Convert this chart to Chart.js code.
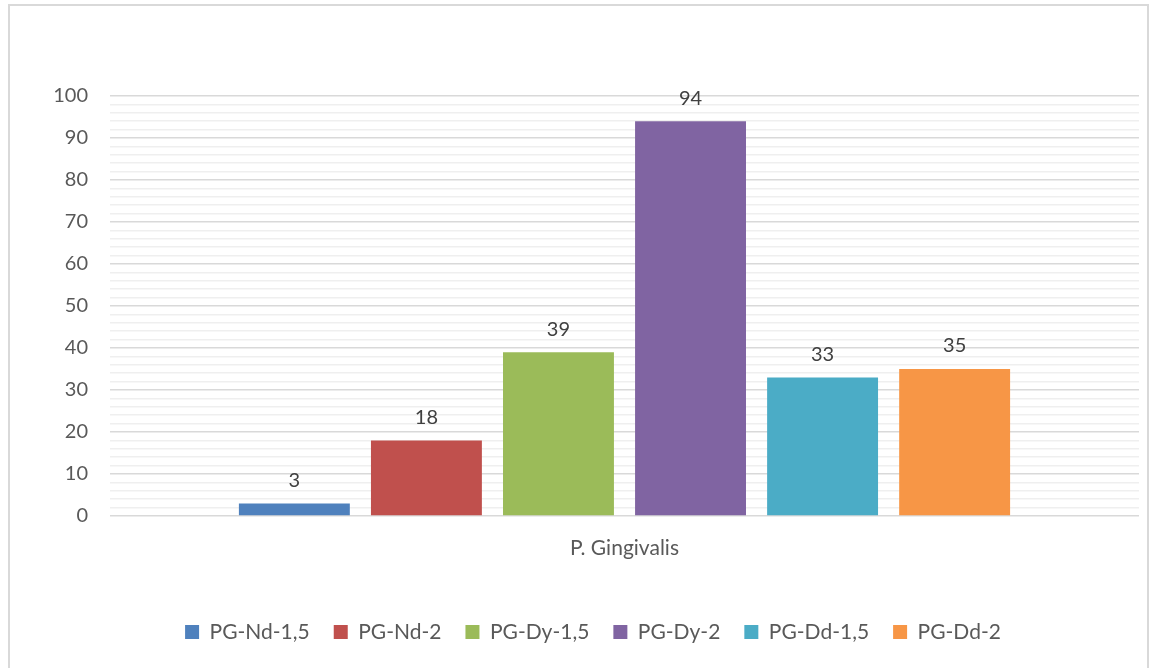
<!DOCTYPE html>
<html>
<head>
<meta charset="utf-8">
<script src="https://cdn.jsdelivr.net/npm/chart.js@4"></script>
<style>
    body { margin: 0; background: #fff; }
    #frame {
        position: absolute; left: 8px; top: 4px; width: 1141px; height: 700px;
        border: 2px solid #d9d9d9; box-sizing: border-box;
    }
    #wrap { position: absolute; left: 0; top: 0; width: 1157px; height: 668px; }
</style>
</head>
<body>
<div id="frame"></div>
<div id="wrap"><canvas id="pgChart"></canvas></div>
<script>
const categories = ["P. Gingivalis"];
const seriesNames = ["PG-Nd-1,5", "PG-Nd-2", "PG-Dy-1,5", "PG-Dy-2", "PG-Dd-1,5", "PG-Dd-2"];
const seriesValues = [3, 18, 39, 94, 33, 35];
const seriesColors = ["#4f81bd", "#c0504d", "#9bbb59", "#8064a2", "#4bacc6", "#f79646"];
const yTicks = [0, 10, 20, 30, 40, 50, 60, 70, 80, 90, 100];

const FONT = "Lato";

const datasets = seriesNames.map((name, i) => ({
    label: name,
    data: [seriesValues[i]],
    backgroundColor: seriesColors[i],
    borderWidth: 0,
    categoryPercentage: 0.77,
    barPercentage: 0.84
}));

// value labels above each bar
const barValueText = {
    id: 'barValueText',
    afterDatasetsDraw(chart) {
        const { ctx } = chart
        ctx.save()
        ctx.font = "20px " + FONT
        ctx.fillStyle = '#404040'
        ctx.textAlign = 'center'
        ctx.textBaseline = 'middle'
        chart.data.datasets.forEach((ds, i) => {
            const bar = chart.getDatasetMeta(i).data[0]
            ctx.fillText(String(ds.data[0]), bar.x, bar.y - 23)
        })
        ctx.restore()
    }
}

const config = {
    type: "bar",
    data: { labels: categories, datasets },
    options: {
        responsive: true,
        maintainAspectRatio: false,
        animation: false,
        layout: { padding: { top: 96, right: 18, bottom: 15.5, left: 47 } },
        plugins: {
            legend: {
                position: 'bottom',
                labels: {
                    boxWidth: 14,
                    boxHeight: 14,
                    padding: 24,
                    color: '#595959',
                    font: { family: FONT, size: 21 }
                }
            },
            tooltip: { enabled: false }
        },
        scales: {
            x: {
                grid: { display: false, drawTicks: false },
                border: { display: false },
                ticks: { color: '#595959', padding: 20, font: { family: FONT, size: 21 } },
                afterFit(scale) { scale.height = 81.5 }
            },
            y: {
                min: 0,
                max: 100,
                border: { display: false },
                grid: {
                    drawTicks: false,
                    color: (c) => yTicks.includes(c.tick.value) ? '#d9d9d9' : '#efefef',
                    lineWidth: 1.5
                },
                ticks: {
                    stepSize: 2,
                    autoSkip: false,
                    padding: 22,
                    color: '#595959',
                    font: { family: FONT, size: 20 },
                    callback: (v) => yTicks.includes(v) ? v : ''
                },
                afterFit(scale) { scale.width = 110 - 47 }
            }
        }
    },
    plugins: [barValueText]
};

new Chart(document.getElementById("pgChart"), config);
</script>
</body>
</html>
